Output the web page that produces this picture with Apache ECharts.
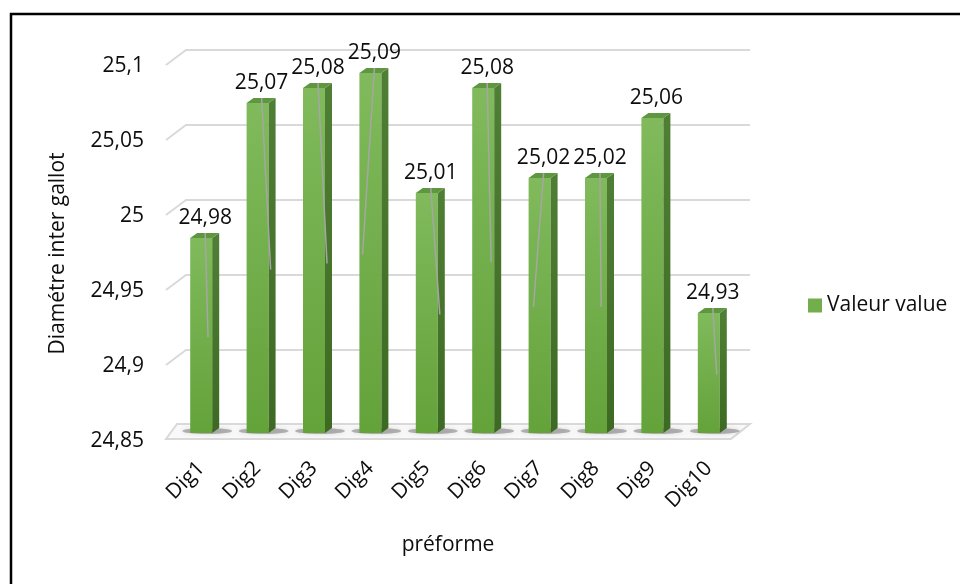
<!doctype html>
<html>
    <head>
        <meta charset="utf-8">
        <title>Diamétre inter gallot</title>
        <style>
            html, body { margin: 0; padding: 0; background: #fff; }
            #main { width: 960px; height: 584px; }
        </style>
    </head>
    <body>
        <div id="main"></div>
        <script src="https://cdn.jsdelivr.net/npm/echarts@6/dist/echarts.min.js"></script>
        <script>
            var chart = echarts.init(document.getElementById('main'));

            // values
            var categories = ['Dig1', 'Dig2', 'Dig3', 'Dig4', 'Dig5', 'Dig6', 'Dig7', 'Dig8', 'Dig9', 'Dig10'];
            var values = [24.98, 25.07, 25.08, 25.09, 25.01, 25.08, 25.02, 25.02, 25.06, 24.93];
            // grey leader lines: where each one ends (value) and how far it leans (share of a category band)
            var leaderLow = [24.914, 24.959, 24.963, 24.969, 24.929, 24.964, 24.934, 24.934, null, 24.889];
            var leaderLean = [0.05, 0.16, 0.16, -0.21, 0.16, 0.07, -0.18, 0.02, 0, 0.07];
            var yTicks = [24.85, 24.9, 24.95, 25, 25.05, 25.1];
            var yMin = 24.85, yMax = 25.1, yStep = 0.05;

            var FONT = 'Open Sans';
            var FS = 21;
            var DEPTH_X = 7, DEPTH_Y = 5;

            function fmt(v) {
                return String(+v.toFixed(2)).replace('.', ',');
            }

            // back wall gridlines + floor
            function renderGrid(params, api) {
                var cs = params.coordSys;
                var t = api.value(1);
                var y = api.coord([0, t])[1];
                if (t === yMin) {
                    return {
                        type: 'polygon',
                        shape: { points: [
                            [cs.x - 7, y - 2], [cs.x + 4, y - 17], [cs.x + cs.width + 13, y - 17],
                            [cs.x + cs.width - 6, y - 2]
                        ] },
                        style: { fill: '#f9f9f9', stroke: '#d9d9d9', lineWidth: 2 }
                    };
                }
                return {
                    type: 'polyline',
                    shape: { points: [
                        [cs.x - 7, y - 1], [cs.x + 13, y - 16], [cs.x + cs.width + 13, y - 16]
                    ] },
                    style: { stroke: '#d9d9d9', lineWidth: 2, fill: null }
                };
            }

            function renderBar(params, api) {
                var idx = api.value(0);
                var val = api.value(1);
                var low = api.value(2);
                var lean = api.value(3);
                var band = api.size([1, 0])[0];
                var w = band * 0.39;
                var top = api.coord([idx, val]);
                var base = api.coord([idx, yMin]);
                var cx = top[0];
                var x0 = cx - w / 2, x1 = cx + w / 2;
                var yt = top[1] - 8, yb = base[1] - 8;

                var children = [
                    {
                        type: 'ellipse',
                        shape: { cx: cx + 6, cy: yb - 2, rx: w / 2 + 14, ry: 3 },
                        style: { fill: 'rgba(60,60,60,0.35)', shadowBlur: 5, shadowColor: 'rgba(0,0,0,0.35)' }
                    },
                    {
                        type: 'rect',
                        shape: { x: x0, y: yt, width: w, height: yb - yt },
                        style: {
                            fill: new echarts.graphic.LinearGradient(0, 0, 0, 1, [
                                { offset: 0, color: '#80ba5c' },
                                { offset: 1, color: '#64a23a' }
                            ])
                        }
                    },
                    {
                        type: 'polygon',
                        shape: { points: [[x1, yt], [x1 + DEPTH_X, yt - DEPTH_Y], [x1 + DEPTH_X, yb - DEPTH_Y], [x1, yb]] },
                        style: {
                            fill: new echarts.graphic.LinearGradient(0, 0, 0, 1, [
                                { offset: 0, color: '#4f7f34' },
                                { offset: 1, color: '#3d6a22' }
                            ])
                        }
                    },
                    {
                        type: 'polygon',
                        shape: { points: [[x0, yt], [x0 + DEPTH_X, yt - DEPTH_Y], [x1 + DEPTH_X, yt - DEPTH_Y], [x1, yt]] },
                        style: { fill: '#5f9741' }
                    }
                ];
                if (!isNaN(low)) {
                    var lowY = api.coord([idx, low])[1] - 8;
                    children.push({
                        type: 'line',
                        shape: { x1: cx + 4, y1: yt - 5, x2: cx + 4 + lean * band, y2: lowY },
                        style: { stroke: '#a6a6a6', lineWidth: 1.5 }
                    });
                }
                children.push({
                    type: 'text',
                    style: {
                        text: fmt(val), x: cx + 4, y: yt - 20,
                        align: 'center', verticalAlign: 'middle',
                        font: FS + 'px "' + FONT + '"', fill: '#0d0d0d'
                    }
                });
                return { type: 'group', children: children };
            }

            var barData = values.map(function (v, i) {
                return [i, v, leaderLow[i] == null ? NaN : leaderLow[i], leaderLean[i]];
            });

            chart.setOption({
                animation: false,
                textStyle: { fontFamily: FONT, color: '#0d0d0d' },
                graphic: [{
                    type: 'rect',
                    shape: { x: 11, y: 14, width: 980, height: 620 },
                    style: { fill: null, stroke: '#000', lineWidth: 2.5 },
                    silent: true
                }],
                legend: {
                    data: [{ name: 'Valeur value', icon: 'rect' }],
                    left: 803, top: 290,
                    itemWidth: 14, itemHeight: 14,
                    textStyle: { fontSize: FS, fontFamily: FONT, color: '#0d0d0d' }
                },
                grid: { left: 173, right: 223, top: 66, bottom: 143 },
                xAxis: {
                    type: 'category',
                    data: categories,
                    name: 'préforme',
                    nameLocation: 'middle',
                    nameGap: 94,
                    nameTextStyle: { fontSize: FS, color: '#0d0d0d', padding: [0, 14, 0, 0] },
                    axisLine: { show: false },
                    axisTick: { show: false },
                    axisLabel: { rotate: 45, margin: 24, fontSize: FS, color: '#0d0d0d', interval: 0 }
                },
                yAxis: {
                    type: 'value',
                    min: yMin, max: yMax, interval: yStep,
                    name: 'Diamétre inter gallot',
                    nameLocation: 'middle',
                    nameGap: 104,
                    nameTextStyle: { fontSize: FS, color: '#0d0d0d' },
                    axisLine: { show: false },
                    axisTick: { show: false },
                    splitLine: { show: false },
                    axisLabel: { margin: 29, fontSize: FS, color: '#0d0d0d', formatter: fmt }
                },
                series: [{
                    type: 'custom',
                    name: 'grid',
                    silent: true,
                    z: 1,
                    renderItem: renderGrid,
                    encode: { x: 0, y: 1 },
                    data: yTicks.map(function (t) { return [0, t]; })
                }, {
                    type: 'custom',
                    name: 'Valeur value',
                    z: 2,
                    itemStyle: { color: '#72ae4b' },
                    renderItem: renderBar,
                    encode: { x: 0, y: 1 },
                    data: barData
                }]
            });

            window.onresize = chart.resize;
        </script>
    </body>
</html>
